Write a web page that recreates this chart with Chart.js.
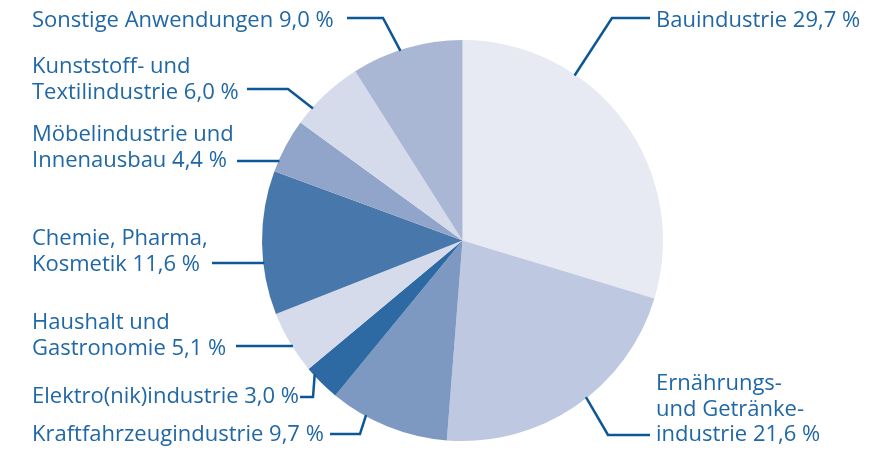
<!DOCTYPE html>
<html>
<head>
<meta charset="utf-8">
<script src="https://cdn.jsdelivr.net/npm/chart.js@4.4.1/dist/chart.umd.min.js"></script>
<style>
  html, body { margin: 0; padding: 0; background: #ffffff; }
  #wrap { width: 893px; height: 450px; }
</style>
</head>
<body>
<div id="wrap"><canvas id="c" width="893" height="450"></canvas></div>
<script>
// ---- Data ----
const categories = [
  ["Bauindustrie"],
  ["Ernährungs-", "und Getränke-", "industrie"],
  ["Kraftfahrzeugindustrie"],
  ["Elektro(nik)industrie"],
  ["Haushalt und", "Gastronomie"],
  ["Chemie, Pharma,", "Kosmetik"],
  ["Möbelindustrie und", "Innenausbau"],
  ["Kunststoff- und", "Textilindustrie"],
  ["Sonstige Anwendungen"]
];
const shares = [29.7, 21.6, 9.7, 3.0, 5.1, 11.6, 4.4, 6.0, 9.0];
const sliceColors = ["#e7eaf3", "#bec8e0", "#7d99c1", "#2d6aa3", "#d5dbeb", "#4877ab", "#90a5c9", "#d5dbeb", "#a9b7d5"];

// ---- Label layout (positions only) ----
const labelLayout = [
  { x: 656, y: 27, leader: [[650, 18], [612, 18]], frac: 0.32 },
  { x: 656, y: 390, leader: [[650, 435], [608, 435]], frac: 0.45 },
  { x: 32, y: 441, leader: [[330, 434], [360, 434]], frac: 0.70 },
  { x: 32, y: 403, leader: [[300, 397], [313, 397]], frac: 0.78 },
  { x: 32, y: 329, leader: [[236, 346]], hy: 346 },
  { x: 32, y: 245, leader: [[212, 263]], hy: 263 },
  { x: 32, y: 141, leader: [[237, 161]], hy: 161 },
  { x: 32, y: 73, leader: [[247, 89], [288, 89]], frac: 0.25 },
  { x: 32, y: 27, leader: [[347, 18], [383, 18]], frac: 0.44 }
];
const lineGap = 25.5;
const textColor = "#1f67a6";
const leaderColor = "#0d5797";

function fmt(v) { return v.toFixed(1).replace('.', ',') + ' %'; }

const labelPlugin = {
  id: 'pieLabels',
  afterDraw(chart) {
    const ctx = chart.ctx;
    const meta = chart.getDatasetMeta(0);
    ctx.save();
    ctx.font = '22px "Open Sans"';
    ctx.textBaseline = 'alphabetic';
    ctx.textAlign = 'left';
    meta.data.forEach((arc, i) => {
      const L = labelLayout[i];
      const p = arc.getProps(['x', 'y', 'startAngle', 'endAngle', 'outerRadius'], true);
      let ex, ey;
      if (L.hy !== undefined) {
        ey = L.hy;
        const dy = ey - p.y;
        ex = p.x - Math.sqrt(Math.max(p.outerRadius * p.outerRadius - dy * dy, 0)) + 1;
      } else {
        const a = p.startAngle + L.frac * (p.endAngle - p.startAngle);
        ex = p.x + Math.cos(a) * (p.outerRadius - 1);
        ey = p.y + Math.sin(a) * (p.outerRadius - 1);
      }
      ctx.strokeStyle = leaderColor;
      ctx.lineWidth = 2.5;
      ctx.lineJoin = 'miter';
      ctx.beginPath();
      ctx.moveTo(L.leader[0][0], L.leader[0][1]);
      for (let k = 1; k < L.leader.length; k++) ctx.lineTo(L.leader[k][0], L.leader[k][1]);
      ctx.lineTo(ex, ey);
      ctx.stroke();

      const lines = categories[i].slice();
      lines[lines.length - 1] = lines[lines.length - 1] + ' ' + fmt(shares[i]);
      ctx.fillStyle = textColor;
      lines.forEach((t, k) => {
        ctx.fillText(t, L.x, L.y + k * lineGap);
      });
    });
    ctx.restore();
  }
};

new Chart(document.getElementById('c'), {
  type: 'pie',
  data: {
    labels: categories,
    datasets: [{
      data: shares,
      backgroundColor: sliceColors,
      borderWidth: 0
    }]
  },
  options: {
    responsive: false,
    animation: false,
    layout: { padding: { top: 40, bottom: 9, left: 132, right: 100 } },
    plugins: {
      legend: { display: false },
      tooltip: { enabled: false }
    }
  },
  plugins: [labelPlugin]
});
</script>
</body>
</html>
